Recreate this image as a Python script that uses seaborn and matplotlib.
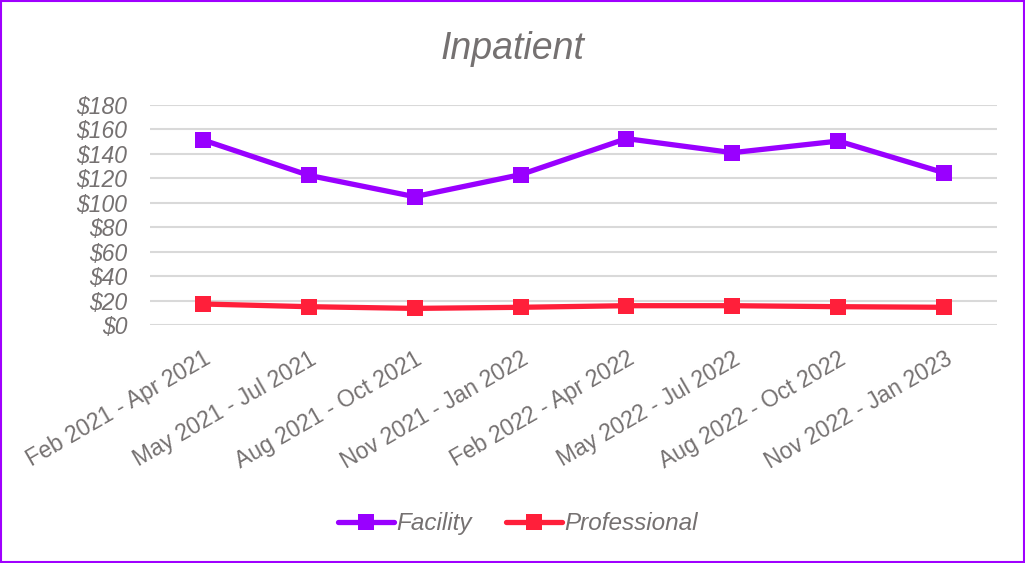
import matplotlib
matplotlib.use("Agg")
from matplotlib import pyplot as plt
import matplotlib.ticker as ticker
from matplotlib.lines import Line2D
from matplotlib.patches import Rectangle
import seaborn as sns
import pandas as pd

periods = ["Feb 2021 - Apr 2021", "May 2021 - Jul 2021", "Aug 2021 - Oct 2021",
           "Nov 2021 - Jan 2022", "Feb 2022 - Apr 2022", "May 2022 - Jul 2022",
           "Aug 2022 - Oct 2022", "Nov 2022 - Jan 2023"]
facility = [151.5, 122.5, 105, 123, 152.5, 141, 150.5, 124.5]
professional = [17.2, 15.0, 13.6, 14.5, 15.8, 15.8, 15.0, 14.5]

PURPLE = "#9900FF"
RED = "#FF1F3A"
GREY = "#757171"

df = pd.DataFrame({
    "Period": periods * 2,
    "Cost": facility + professional,
    "Type": ["Facility"] * len(periods) + ["Professional"] * len(periods),
})

sns.set_style("white")
plt.rcParams["font.family"] = ["Liberation Sans", "DejaVu Sans"]

fig = plt.figure(figsize=(10.25, 5.63), dpi=100)
ax = fig.add_axes([0.146, 0.4227, 0.827, 0.3908])
sns.lineplot(data=df, x="Period", y="Cost", hue="Type", style="Type",
             palette={"Facility": PURPLE, "Professional": RED},
             markers={"Facility": "s", "Professional": "s"}, dashes=False,
             linewidth=3.8, markersize=11, markeredgewidth=0, sort=False,
             legend=False, ax=ax)

ax.set_xlim(-0.5, len(periods) - 0.5)
ax.set_ylim(0, 180)
ax.yaxis.set_major_locator(ticker.MultipleLocator(20))
ax.yaxis.set_major_formatter(ticker.FuncFormatter(lambda v, _: f"${v:.0f}"))
ax.grid(axis="y", color="#D9D9D9", linewidth=1.5)
ax.set_axisbelow(True)
for s in ax.spines.values():
    s.set_visible(False)
ax.set_xlabel("")
ax.set_ylabel("")
ax.tick_params(axis="both", length=0, labelsize=16.5, labelcolor=GREY)
ax.tick_params(axis="y", pad=16)
ax.tick_params(axis="x", pad=16)
ax.set_xticks(range(len(periods)))
ax.set_xticklabels(periods, rotation=30, ha="right", rotation_mode="anchor")
for lab in ax.get_yticklabels():
    lab.set_style("italic")

fig.text(0.5, 0.913, "Inpatient", ha="center", va="center", fontsize=27,
         style="italic", color=GREY)

handles = [Line2D([], [], color=PURPLE, lw=3.8, marker="s", markersize=11, markeredgewidth=0),
           Line2D([], [], color=RED, lw=3.8, marker="s", markersize=11, markeredgewidth=0)]
leg = fig.legend(handles, ["Facility", "Professional"], loc="center",
                 bbox_to_anchor=(0.505, 0.07), ncol=2, frameon=False,
                 handlelength=2.3, handletextpad=0.1, columnspacing=1.4,
                 prop={"size": 17.5, "style": "italic"})
for t in leg.get_texts():
    t.set_color(GREY)

fig.patches.append(Rectangle((0.001, 0.001), 0.998, 0.997, transform=fig.transFigure,
                             fill=False, edgecolor="#A000FF", linewidth=1.5))

fig.savefig("out.png", dpi=100)
